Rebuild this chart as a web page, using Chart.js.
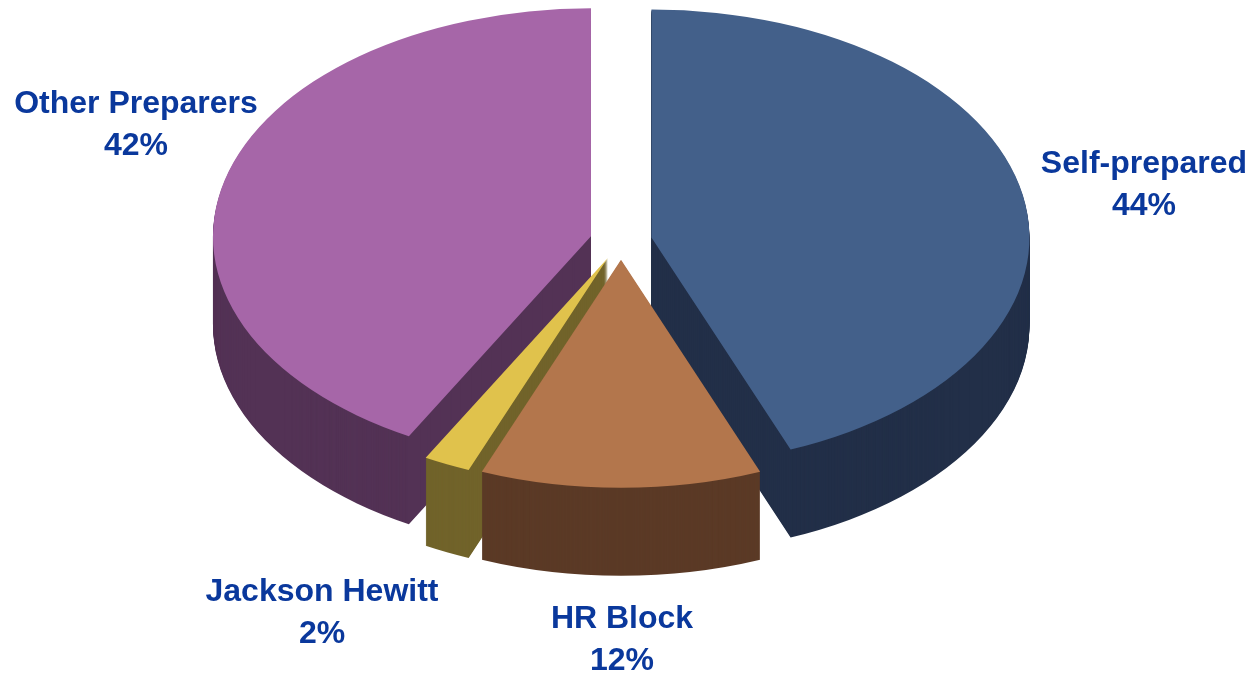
<!DOCTYPE html>
<html>
<head>
<meta charset="utf-8">
<script src="https://cdn.jsdelivr.net/npm/chart.js@4.4.1/dist/chart.umd.min.js"></script>
<style>
  html, body { margin: 0; padding: 0; background: #fff; }
  #wrap { width: 1253px; height: 675px; position: relative; }
</style>
</head>
<body>
<div id="wrap"><canvas id="myChart" width="1253" height="675"></canvas></div>
<script>
// slices, clockwise from 12 o'clock
var labels = ['Self-prepared', 'HR Block', 'Jackson Hewitt', 'Other Preparers'];
var shares = [44, 12, 2, 42];

// top face and side wall colours
var topColors = ['#43608a', '#b3764c', '#e0c24c', '#a666a8'];
var sideColors = ['#222f48', '#5b3a26', '#71632a', '#533255'];

// centre of the first text line of each label
var labelPos = [[1144, 164], [622, 619], [322, 592], [136, 104]];

// 3d look of the pie
var CX = 621, CY = 241, RX = 378, RY = 228, DEPTH = 88, EXPLODE = 31;

// draw one arc squashed into the ellipse, moved to (ox, oy)
function drawAt(ctx, arc, ox, oy) {
    var r = arc.outerRadius;
    ctx.save();
    ctx.translate(ox, oy);
    ctx.scale(RX / r, RY / r);
    ctx.translate(-arc.x, -arc.y);
    arc.draw(ctx);
    ctx.restore();
}

function midAngle(arc) {
    return (arc.startAngle + arc.endAngle) / 2;
}

var pie3d = {
    id: 'pie3d',
    beforeDatasetsDraw: function (chart) {
        var ctx = chart.ctx;
        var arcs = chart.getDatasetMeta(0).data;
        // back slices first, front slices last
        var order = arcs.map(function (a, i) { return i; });
        order.sort(function (a, b) {
            return Math.sin(midAngle(arcs[a])) - Math.sin(midAngle(arcs[b]));
        });
        order.forEach(function (i) {
            var arc = arcs[i];
            var m = midAngle(arc);
            var ox = CX + Math.cos(m) * EXPLODE;
            var oy = CY + Math.sin(m) * EXPLODE * RY / RX;
            // side wall: stack of darker copies going down
            var side = Object.create(arc);
            side.options = Object.assign({}, arc.options, { backgroundColor: sideColors[i] });
            for (var d = DEPTH; d >= 1; d--) {
                drawAt(ctx, side, ox, oy + d);
            }
            drawAt(ctx, arc, ox, oy);
        });
        return false;
    },
    afterDraw: function (chart) {
        var ctx = chart.ctx;
        ctx.save();
        ctx.font = 'bold 32px "Liberation Sans", Arial, sans-serif';
        ctx.fillStyle = '#0a389c';
        ctx.textAlign = 'center';
        ctx.textBaseline = 'middle';
        labels.forEach(function (name, i) {
            ctx.fillText(name, labelPos[i][0], labelPos[i][1]);
            ctx.fillText(shares[i] + '%', labelPos[i][0], labelPos[i][1] + 42);
        });
        ctx.restore();
    }
};

var ctx = document.getElementById('myChart').getContext('2d');
var myChart = new Chart(ctx, {
    type: 'pie',
    data: {
        labels: labels,
        datasets: [{
            data: shares,
            backgroundColor: topColors,
            borderWidth: 0
        }]
    },
    options: {
        responsive: false,
        animation: false,
        plugins: {
            legend: { display: false },
            tooltip: { enabled: false }
        }
    },
    plugins: [pie3d]
});
</script>
</body>
</html>
